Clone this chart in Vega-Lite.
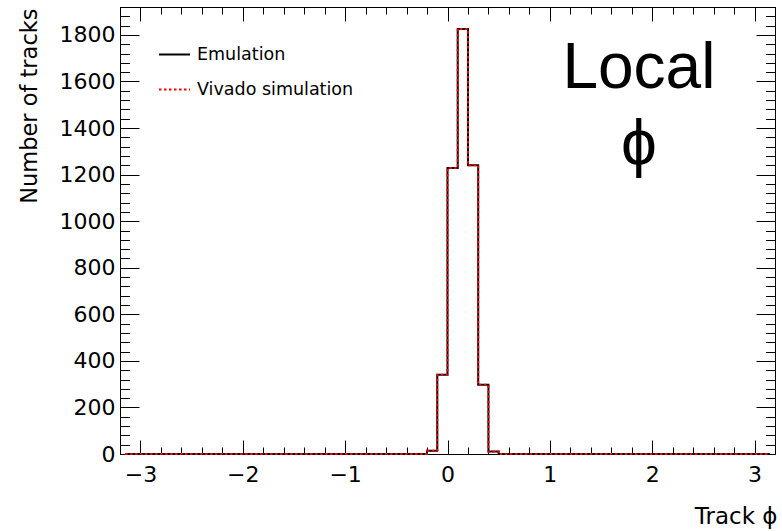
{
  "$schema": "https://vega.github.io/schema/vega-lite/v6.json",
  "width": 655,
  "height": 447,
  "autosize": {"type": "none"},
  "padding": {"left": 120, "top": 7, "right": 7, "bottom": 77},
  "background": "white",
  "config": {
    "view": {"stroke": "black", "strokeWidth": 1},
    "font": "DejaVu Sans",
    "axis": {
      "grid": false,
      "domainColor": "black",
      "domainWidth": 1,
      "tickColor": "black",
      "tickWidth": 1,
      "labelColor": "black",
      "titleColor": "black",
      "labelFont": "DejaVu Sans",
      "labelFontSize": 22,
      "titleFont": "DejaVu Sans",
      "titleFontWeight": "normal",
      "labelFlush": false,
      "labelOverlap": false,
      "labelBound": false
    }
  },
  "layer": [
    {
      "data": {
        "values": [
          {"phi": -3.15, "series": "Emulation", "tracks": 0}, {"phi": -3.05, "series": "Emulation", "tracks": 0},
          {"phi": -2.95, "series": "Emulation", "tracks": 0}, {"phi": -2.85, "series": "Emulation", "tracks": 0},
          {"phi": -2.75, "series": "Emulation", "tracks": 0}, {"phi": -2.65, "series": "Emulation", "tracks": 0},
          {"phi": -2.55, "series": "Emulation", "tracks": 0}, {"phi": -2.45, "series": "Emulation", "tracks": 0},
          {"phi": -2.35, "series": "Emulation", "tracks": 0}, {"phi": -2.25, "series": "Emulation", "tracks": 0},
          {"phi": -2.15, "series": "Emulation", "tracks": 0}, {"phi": -2.05, "series": "Emulation", "tracks": 0},
          {"phi": -1.95, "series": "Emulation", "tracks": 0}, {"phi": -1.85, "series": "Emulation", "tracks": 0},
          {"phi": -1.75, "series": "Emulation", "tracks": 0}, {"phi": -1.65, "series": "Emulation", "tracks": 0},
          {"phi": -1.55, "series": "Emulation", "tracks": 0}, {"phi": -1.45, "series": "Emulation", "tracks": 0},
          {"phi": -1.35, "series": "Emulation", "tracks": 0}, {"phi": -1.25, "series": "Emulation", "tracks": 0},
          {"phi": -1.15, "series": "Emulation", "tracks": 0}, {"phi": -1.05, "series": "Emulation", "tracks": 0},
          {"phi": -0.95, "series": "Emulation", "tracks": 0}, {"phi": -0.85, "series": "Emulation", "tracks": 0},
          {"phi": -0.75, "series": "Emulation", "tracks": 0}, {"phi": -0.65, "series": "Emulation", "tracks": 0},
          {"phi": -0.55, "series": "Emulation", "tracks": 0}, {"phi": -0.45, "series": "Emulation", "tracks": 0},
          {"phi": -0.35, "series": "Emulation", "tracks": 0}, {"phi": -0.25, "series": "Emulation", "tracks": 0},
          {"phi": -0.15, "series": "Emulation", "tracks": 14}, {"phi": -0.05, "series": "Emulation", "tracks": 340},
          {"phi": 0.05, "series": "Emulation", "tracks": 1228}, {"phi": 0.15, "series": "Emulation", "tracks": 1826},
          {"phi": 0.25, "series": "Emulation", "tracks": 1240}, {"phi": 0.35, "series": "Emulation", "tracks": 297},
          {"phi": 0.45, "series": "Emulation", "tracks": 11}, {"phi": 0.55, "series": "Emulation", "tracks": 0},
          {"phi": 0.65, "series": "Emulation", "tracks": 0}, {"phi": 0.75, "series": "Emulation", "tracks": 0},
          {"phi": 0.85, "series": "Emulation", "tracks": 0}, {"phi": 0.95, "series": "Emulation", "tracks": 0},
          {"phi": 1.05, "series": "Emulation", "tracks": 0}, {"phi": 1.15, "series": "Emulation", "tracks": 0},
          {"phi": 1.25, "series": "Emulation", "tracks": 0}, {"phi": 1.35, "series": "Emulation", "tracks": 0},
          {"phi": 1.45, "series": "Emulation", "tracks": 0}, {"phi": 1.55, "series": "Emulation", "tracks": 0},
          {"phi": 1.65, "series": "Emulation", "tracks": 0}, {"phi": 1.75, "series": "Emulation", "tracks": 0},
          {"phi": 1.85, "series": "Emulation", "tracks": 0}, {"phi": 1.95, "series": "Emulation", "tracks": 0},
          {"phi": 2.05, "series": "Emulation", "tracks": 0}, {"phi": 2.15, "series": "Emulation", "tracks": 0},
          {"phi": 2.25, "series": "Emulation", "tracks": 0}, {"phi": 2.35, "series": "Emulation", "tracks": 0},
          {"phi": 2.45, "series": "Emulation", "tracks": 0}, {"phi": 2.55, "series": "Emulation", "tracks": 0},
          {"phi": 2.65, "series": "Emulation", "tracks": 0}, {"phi": 2.75, "series": "Emulation", "tracks": 0},
          {"phi": 2.85, "series": "Emulation", "tracks": 0}, {"phi": 2.95, "series": "Emulation", "tracks": 0},
          {"phi": 3.05, "series": "Emulation", "tracks": 0}, {"phi": 3.15, "series": "Emulation", "tracks": 0},
          {"phi": -3.15, "series": "Vivado simulation", "tracks": 0}, {"phi": -3.05, "series": "Vivado simulation", "tracks": 0},
          {"phi": -2.95, "series": "Vivado simulation", "tracks": 0}, {"phi": -2.85, "series": "Vivado simulation", "tracks": 0},
          {"phi": -2.75, "series": "Vivado simulation", "tracks": 0}, {"phi": -2.65, "series": "Vivado simulation", "tracks": 0},
          {"phi": -2.55, "series": "Vivado simulation", "tracks": 0}, {"phi": -2.45, "series": "Vivado simulation", "tracks": 0},
          {"phi": -2.35, "series": "Vivado simulation", "tracks": 0}, {"phi": -2.25, "series": "Vivado simulation", "tracks": 0},
          {"phi": -2.15, "series": "Vivado simulation", "tracks": 0}, {"phi": -2.05, "series": "Vivado simulation", "tracks": 0},
          {"phi": -1.95, "series": "Vivado simulation", "tracks": 0}, {"phi": -1.85, "series": "Vivado simulation", "tracks": 0},
          {"phi": -1.75, "series": "Vivado simulation", "tracks": 0}, {"phi": -1.65, "series": "Vivado simulation", "tracks": 0},
          {"phi": -1.55, "series": "Vivado simulation", "tracks": 0}, {"phi": -1.45, "series": "Vivado simulation", "tracks": 0},
          {"phi": -1.35, "series": "Vivado simulation", "tracks": 0}, {"phi": -1.25, "series": "Vivado simulation", "tracks": 0},
          {"phi": -1.15, "series": "Vivado simulation", "tracks": 0}, {"phi": -1.05, "series": "Vivado simulation", "tracks": 0},
          {"phi": -0.95, "series": "Vivado simulation", "tracks": 0}, {"phi": -0.85, "series": "Vivado simulation", "tracks": 0},
          {"phi": -0.75, "series": "Vivado simulation", "tracks": 0}, {"phi": -0.65, "series": "Vivado simulation", "tracks": 0},
          {"phi": -0.55, "series": "Vivado simulation", "tracks": 0}, {"phi": -0.45, "series": "Vivado simulation", "tracks": 0},
          {"phi": -0.35, "series": "Vivado simulation", "tracks": 0}, {"phi": -0.25, "series": "Vivado simulation", "tracks": 0},
          {"phi": -0.15, "series": "Vivado simulation", "tracks": 14}, {"phi": -0.05, "series": "Vivado simulation", "tracks": 340},
          {"phi": 0.05, "series": "Vivado simulation", "tracks": 1228}, {"phi": 0.15, "series": "Vivado simulation", "tracks": 1826},
          {"phi": 0.25, "series": "Vivado simulation", "tracks": 1240}, {"phi": 0.35, "series": "Vivado simulation", "tracks": 297},
          {"phi": 0.45, "series": "Vivado simulation", "tracks": 11}, {"phi": 0.55, "series": "Vivado simulation", "tracks": 0},
          {"phi": 0.65, "series": "Vivado simulation", "tracks": 0}, {"phi": 0.75, "series": "Vivado simulation", "tracks": 0},
          {"phi": 0.85, "series": "Vivado simulation", "tracks": 0}, {"phi": 0.95, "series": "Vivado simulation", "tracks": 0},
          {"phi": 1.05, "series": "Vivado simulation", "tracks": 0}, {"phi": 1.15, "series": "Vivado simulation", "tracks": 0},
          {"phi": 1.25, "series": "Vivado simulation", "tracks": 0}, {"phi": 1.35, "series": "Vivado simulation", "tracks": 0},
          {"phi": 1.45, "series": "Vivado simulation", "tracks": 0}, {"phi": 1.55, "series": "Vivado simulation", "tracks": 0},
          {"phi": 1.65, "series": "Vivado simulation", "tracks": 0}, {"phi": 1.75, "series": "Vivado simulation", "tracks": 0},
          {"phi": 1.85, "series": "Vivado simulation", "tracks": 0}, {"phi": 1.95, "series": "Vivado simulation", "tracks": 0},
          {"phi": 2.05, "series": "Vivado simulation", "tracks": 0}, {"phi": 2.15, "series": "Vivado simulation", "tracks": 0},
          {"phi": 2.25, "series": "Vivado simulation", "tracks": 0}, {"phi": 2.35, "series": "Vivado simulation", "tracks": 0},
          {"phi": 2.45, "series": "Vivado simulation", "tracks": 0}, {"phi": 2.55, "series": "Vivado simulation", "tracks": 0},
          {"phi": 2.65, "series": "Vivado simulation", "tracks": 0}, {"phi": 2.75, "series": "Vivado simulation", "tracks": 0},
          {"phi": 2.85, "series": "Vivado simulation", "tracks": 0}, {"phi": 2.95, "series": "Vivado simulation", "tracks": 0},
          {"phi": 3.05, "series": "Vivado simulation", "tracks": 0}, {"phi": 3.15, "series": "Vivado simulation", "tracks": 0}
        ]
      },
      "mark": {"type": "line", "interpolate": "step", "strokeWidth": 2},
      "encoding": {
        "x": {
          "field": "phi",
          "type": "quantitative",
          "scale": {"domain": [-3.2, 3.2], "nice": false, "zero": false},
          "axis": {
            "orient": "bottom",
            "values": [-3.2, -3, -2.8, -2.6, -2.4, -2.2, -2, -1.8, -1.6, -1.4, -1.2, -1, -0.8, -0.6, -0.4, -0.2, 0, 0.2, 0.4, 0.6, 0.8, 1, 1.2, 1.4, 1.6, 1.8, 2, 2.2, 2.4, 2.6, 2.8, 3, 3.2],
            "tickSize": {"condition": {"test": "abs(datum.value - round(datum.value)) < 0.001", "value": -14}, "value": -7},
            "labelExpr": "abs(datum.value - round(datum.value)) < 0.001 ? format(round(datum.value), 'd') : ''",
            "labelPadding": 24,
            "title": "Track ϕ",
            "titleFontSize": 23,
            "titleAnchor": "end",
            "titleAlign": "right",
            "titleBaseline": "alphabetic",
            "titleX": 657,
            "titleY": 69
          }
        },
        "y": {
          "field": "tracks",
          "type": "quantitative",
          "scale": {"domain": [0, 1920], "nice": false},
          "axis": {
            "orient": "left",
            "values": [0, 40, 80, 120, 160, 200, 240, 280, 320, 360, 400, 440, 480, 520, 560, 600, 640, 680, 720, 760, 800, 840, 880, 920, 960, 1000, 1040, 1080, 1120, 1160, 1200, 1240, 1280, 1320, 1360, 1400, 1440, 1480, 1520, 1560, 1600, 1640, 1680, 1720, 1760, 1800, 1840, 1880],
            "tickSize": {"condition": {"test": "datum.value % 200 === 0", "value": -19}, "value": -9.5},
            "labelExpr": "datum.value % 200 === 0 ? format(datum.value, 'd') : ''",
            "labelPadding": 24,
            "title": "Number of tracks",
            "titleFontSize": 22.5,
            "titleAnchor": "end",
            "titleAlign": "right",
            "titleAngle": -90,
            "titleBaseline": "alphabetic",
            "titleX": -84,
            "titleY": 1
          }
        },
        "color": {
          "field": "series",
          "type": "nominal",
          "scale": {"domain": ["Emulation", "Vivado simulation"], "range": ["#000000", "#ff0000"]},
          "legend": {
            "title": null,
            "orient": "none",
            "legendX": 38,
            "legendY": 31,
            "padding": 0,
            "symbolType": "stroke",
            "symbolSize": 961,
            "symbolStrokeWidth": 2,
            "labelFont": "DejaVu Sans",
            "labelFontSize": 17.5,
            "labelColor": "black",
            "labelOffset": 6,
            "rowPadding": 10
          }
        },
        "strokeDash": {
          "field": "series",
          "type": "nominal",
          "scale": {"domain": ["Emulation", "Vivado simulation"], "range": [[1, 0], [2.5, 2.5]]},
          "legend": {
            "title": null,
            "orient": "none",
            "legendX": 38,
            "legendY": 31,
            "padding": 0,
            "symbolType": "stroke",
            "symbolSize": 961,
            "symbolStrokeWidth": 2,
            "labelFont": "DejaVu Sans",
            "labelFontSize": 17.5,
            "labelColor": "black",
            "labelOffset": 6,
            "rowPadding": 10
          }
        }
      }
    },
    {
      "data": {
        "values": [
          {"tx": 1.87, "ty": 1572, "label": "Local"},
          {"tx": 1.87, "ty": 1241, "label": "ϕ"}
        ]
      },
      "mark": {"type": "text", "font": "Liberation Sans", "fontSize": 64, "align": "center", "baseline": "alphabetic", "color": "black"},
      "encoding": {
        "x": {
          "field": "tx",
          "type": "quantitative",
          "scale": {"domain": [-3.2, 3.2], "nice": false, "zero": false},
          "axis": {
            "orient": "top",
            "values": [-3.2, -3, -2.8, -2.6, -2.4, -2.2, -2, -1.8, -1.6, -1.4, -1.2, -1, -0.8, -0.6, -0.4, -0.2, 0, 0.2, 0.4, 0.6, 0.8, 1, 1.2, 1.4, 1.6, 1.8, 2, 2.2, 2.4, 2.6, 2.8, 3, 3.2],
            "tickSize": {"condition": {"test": "abs(datum.value - round(datum.value)) < 0.001", "value": -14}, "value": -7},
            "labels": false,
            "title": null
          }
        },
        "y": {
          "field": "ty",
          "type": "quantitative",
          "scale": {"domain": [0, 1920], "nice": false},
          "axis": {
            "orient": "right",
            "values": [0, 40, 80, 120, 160, 200, 240, 280, 320, 360, 400, 440, 480, 520, 560, 600, 640, 680, 720, 760, 800, 840, 880, 920, 960, 1000, 1040, 1080, 1120, 1160, 1200, 1240, 1280, 1320, 1360, 1400, 1440, 1480, 1520, 1560, 1600, 1640, 1680, 1720, 1760, 1800, 1840, 1880],
            "tickSize": {"condition": {"test": "datum.value % 200 === 0", "value": -19}, "value": -9.5},
            "labels": false,
            "title": null
          }
        },
        "text": {"field": "label", "type": "nominal"}
      }
    }
  ],
  "resolve": {"axis": {"x": "independent", "y": "independent"}}
}
